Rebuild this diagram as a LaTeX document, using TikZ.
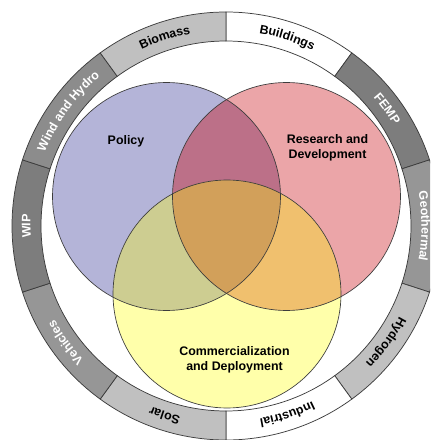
\documentclass[tikz,border=0pt]{standalone}
\usepackage{fontspec}
\setmainfont{Liberation Sans}
\usetikzlibrary{decorations.text}

% colours of the three programme areas and their overlaps
\definecolor{polfill}{RGB}{180,180,216}
\definecolor{rdfill}{RGB}{235,165,168}
\definecolor{cdfill}{RGB}{255,255,170}
\definecolor{polrd}{RGB}{188,112,136}
\definecolor{polcd}{RGB}{205,205,145}
\definecolor{rdcd}{RGB}{240,192,110}
\definecolor{allthree}{RGB}{210,160,90}
\definecolor{edgeline}{RGB}{60,60,60}
% ring segment greys
\definecolor{gLight}{RGB}{192,192,192}
\definecolor{gMid}{RGB}{150,150,150}
\definecolor{gMidDark}{RGB}{140,140,140}
\definecolor{gDark}{RGB}{125,125,125}

\newcommand\ringfont{\fontsize{9.3}{11}\selectfont\bfseries}

\tikzset{
  venncircle/.style={draw=edgeline, line width=0.5pt},
  ringseg/.style={draw=edgeline, line width=0.55pt},
  venntext/.style={font=\fontsize{9.3}{11.3}\selectfont\bfseries, align=center, inner sep=0pt},
}

% ring segment: start angle, fill colour
\newcommand\ringpiece[2]{%
  \path[ringseg, fill=#2] (#1:214) arc[start angle=#1, end angle=#1-36, radius=214]
    -- (#1-36:185) arc[start angle=#1-36, end angle=#1, radius=185] -- cycle;}
% label running clockwise along the ring: start angle, text colour, text
\newcommand\ringlabel[3]{%
  \path[decorate, decoration={text along path, text align=center,
      text={|\ringfont\color{#2}|#3}}]
    (#1:195.5) arc[start angle=#1, end angle=#1-36, radius=195.5];}

\begin{document}
\begin{tikzpicture}[x=0.75pt, y=0.75pt]
  \useasboundingbox (0,0) rectangle (430,440);
  \fill[white] (0,0) rectangle (430,440);
  \clip (0,0) rectangle (430,440);

  % outer ring of programme offices
  \begin{scope}[shift={(226,214)}]
    \ringpiece{90}{white}
    \ringpiece{54}{gDark}
    \ringpiece{18}{gMid}
    \ringpiece{-18}{gLight}
    \ringpiece{-54}{white}
    \ringpiece{-90}{gLight}
    \ringpiece{-126}{gMid}
    \ringpiece{-162}{gDark}
    \ringpiece{162}{gMidDark}
    \ringpiece{126}{gLight}

    \ringlabel{90}{black}{Buildings}
    \ringlabel{54}{white}{FEMP}
    \ringlabel{18}{white}{Geothermal}
    \ringlabel{-18}{black}{Hydrogen}
    \ringlabel{-54}{black}{Industrial}
    \ringlabel{-90}{black}{Solar}
    \ringlabel{-126}{white}{Vehicles}
    \ringlabel{-162}{white}{WIP}
    \ringlabel{162}{white}{Wind and Hydro}
    \ringlabel{126}{black}{Biomass}
  \end{scope}

  % centres of the three circles
  \coordinate (pol) at (166.5,243.5);
  \coordinate (rd)  at (286.5,243.5);
  \coordinate (cd)  at (227,146);

  % single areas
  \fill[polfill] (pol) circle[radius=114];
  \fill[rdfill]  (rd)  circle[radius=114];
  \fill[cdfill]  (cd)  circle[radius=114];
  % pairwise overlaps
  \begin{scope}
    \clip (pol) circle[radius=114];
    \fill[polrd] (rd) circle[radius=114];
    \fill[polcd] (cd) circle[radius=114];
  \end{scope}
  \begin{scope}
    \clip (rd) circle[radius=114];
    \fill[rdcd] (cd) circle[radius=114];
  \end{scope}
  % common core
  \begin{scope}
    \clip (pol) circle[radius=114];
    \clip (rd) circle[radius=114];
    \fill[allthree] (cd) circle[radius=114];
  \end{scope}
  % outlines
  \draw[venncircle] (pol) circle[radius=114];
  \draw[venncircle] (rd)  circle[radius=114];
  \draw[venncircle] (cd)  circle[radius=114];

  \node[venntext] (policyLbl) at (126,299) {Policy};
  \node[venntext] (rdLbl) at (327.5,292) {Research and\\Development};
  \node[venntext] (cdLbl) at (234.5,80) {Commercialization\\and Deployment};
\end{tikzpicture}
\end{document}
